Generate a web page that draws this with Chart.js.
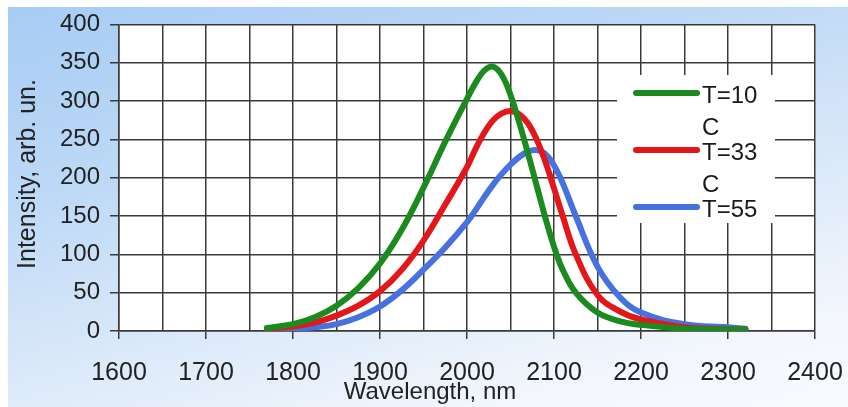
<!DOCTYPE html>
<html>
<head>
<meta charset="utf-8">
<script src="https://cdn.jsdelivr.net/npm/chart.js@4.4.0/dist/chart.umd.min.js"></script>
<style>
  html, body { margin: 0; padding: 0; background: #fff; }
  #frame {
    position: absolute; left: 8px; top: 7px; width: 840px; height: 400px;
    background: linear-gradient(165deg, #a7ccf4 0%, #bcd8f6 30%, #dbe9f9 60%, #f3f7fd 85%, #f8fafe 100%);
  }
  #c { position: absolute; left: 0; top: 0; }
</style>
</head>
<body>
<div id="frame"></div>
<canvas id="c" width="848" height="407"></canvas>
<script>
// ── 数据 ──
const wavelengths = [1770, 1800, 1825, 1850, 1875, 1900, 1925, 1950, 1975, 2000, 2010, 2020, 2030, 2040, 2050, 2060, 2070, 2080, 2090, 2100, 2110, 2125, 2150, 2175, 2200, 2250, 2300, 2320];
const t10 = [4, 9, 18, 33, 56, 88, 132, 187, 247, 303, 324, 340, 345, 334, 308, 272, 232, 190, 148, 110, 80, 50, 24, 13, 8, 3, 2, 2];
const t33 = [3, 6, 11, 20, 33, 52, 80, 118, 165, 214, 238, 259, 275, 284, 287, 283, 271, 250, 221, 186, 150, 100, 47, 26, 15, 5, 2, 2];
const t55 = [2, 3, 5, 9, 18, 32, 53, 80, 109, 142, 158, 175, 191, 205, 217, 227, 234, 236, 231, 216, 193, 150, 84, 45, 24, 9, 5, 3];
const seriesLabels = ['T=10 C', 'T=33 C', 'T=55 C'];
const seriesColors = ['#1b8a1f', '#e3161a', '#4671de'];
const xTickLabels = [1600, 1700, 1800, 1900, 2000, 2100, 2200, 2300, 2400];
const yTickLabels = [0, 50, 100, 150, 200, 250, 300, 350, 400];

const FONT = '"Liberation Sans", Arial, sans-serif';
const GRID = '#3a3a3a';

function toPoints(vals) {
  return wavelengths.map((w, i) => ({ x: w, y: vals[i] }));
}

// 白色绘图区 + 坐标轴标题 + 图例
const decor = {
  id: 'decor',
  beforeDraw(chart) {
    const { ctx, chartArea: a } = chart;
    ctx.save();
    ctx.fillStyle = '#fff';
    ctx.fillRect(a.left, a.top, a.right - a.left, a.bottom - a.top);
    ctx.restore();
  },
  beforeDatasetsDraw(chart) {
    const ctx = chart.ctx;
    ctx.save();
    // 图例底框
    ctx.fillStyle = '#fff';
    ctx.fillRect(617, 75, 158, 148);
    const rows = [93, 150, 207];
    seriesLabels.forEach((lab, i) => {
      const y = rows[i];
      ctx.strokeStyle = seriesColors[i];
      ctx.lineWidth = 6;
      ctx.lineCap = 'round';
      ctx.beginPath();
      ctx.moveTo(636, y);
      ctx.lineTo(697, y);
      ctx.stroke();
      const parts = lab.split(' ');
      ctx.fillStyle = '#1a1a1a';
      ctx.font = '24px ' + FONT;
      ctx.textAlign = 'left';
      ctx.textBaseline = 'middle';
      ctx.fillText(parts[0], 702, y + 3);
      // 最后一项的 "C" 被图例框裁掉
      if (i < seriesLabels.length - 1) ctx.fillText(parts[1], 702, y + 35);
    });
    ctx.restore();
  },
  afterDraw(chart) {
    const ctx = chart.ctx;
    ctx.save();
    ctx.fillStyle = '#222';
    ctx.font = '24px ' + FONT;
    ctx.textAlign = 'center';
    ctx.textBaseline = 'alphabetic';
    ctx.fillText('Wavelength, nm', 430, 399);
    ctx.translate(28, 174);
    ctx.rotate(-Math.PI / 2);
    ctx.font = '25px ' + FONT;
    ctx.textBaseline = 'middle';
    ctx.fillText('Intensity, arb. un.', 0, 0);
    ctx.restore();
  }
};

const ds = [t10, t33, t55].map((vals, i) => ({
  label: seriesLabels[i],
  data: toPoints(vals),
  borderColor: seriesColors[i],
  borderWidth: 6,
  pointRadius: 0,
  fill: false,
  tension: 0.4,
  borderCapStyle: 'round',
  borderJoinStyle: 'round'
}));

new Chart(document.getElementById('c'), {
  type: 'line',
  data: { datasets: ds },
  options: {
    responsive: false,
    animation: false,
    layout: { padding: { left: 0, top: 24, right: 33, bottom: 0 } },
    plugins: { legend: { display: false }, tooltip: { enabled: false } },
    scales: {
      x: {
        type: 'linear',
        min: 1600, max: 2400,
        afterFit: s => { s.height = 76; s.paddingLeft = 0; s.paddingRight = 0; },
        afterBuildTicks: s => {
          const t = [];
          for (let v = 1600; v <= 2400; v += 50) t.push({ value: v });
          s.ticks = t;
        },
        ticks: {
          autoSkip: false, maxRotation: 0, padding: 19,
          color: '#222', font: { family: FONT, size: 25 },
          callback: v => xTickLabels.includes(v) ? String(v) : ''
        },
        grid: {
          color: GRID, lineWidth: 1.5, tickLength: 8,
          tickColor: c => (c.tick && c.tick.value % 100 === 0) ? GRID : 'rgba(0,0,0,0)'
        },
        border: { color: GRID, width: 1.5 }
      },
      y: {
        min: 0, max: 400,
        afterFit: s => { s.width = 119; },
        afterBuildTicks: s => { s.ticks = yTickLabels.map(v => ({ value: v })); },
        ticks: {
          padding: 10, color: '#222', font: { family: FONT, size: 24 }
        },
        grid: { color: GRID, lineWidth: 1.5, tickLength: 9, tickColor: GRID },
        border: { color: GRID, width: 1.5 }
      }
    }
  },
  plugins: [decor]
});
</script>
</body>
</html>
